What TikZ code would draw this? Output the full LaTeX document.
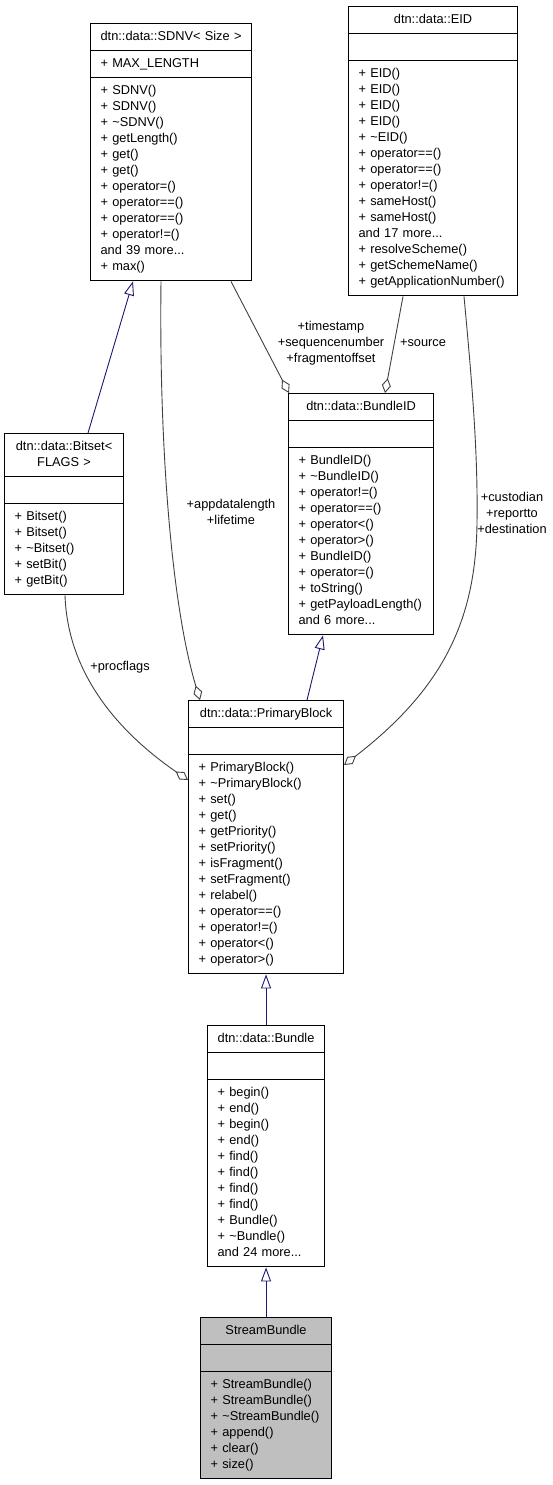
\documentclass[tikz,border=0pt]{standalone}
\usepackage{fontspec}
\setmainfont{Liberation Sans}
\usepackage{tikz}
\usetikzlibrary{shapes.multipart, arrows.meta, positioning}

\definecolor{inherit}{HTML}{191970}
\definecolor{assoc}{HTML}{404040}
\definecolor{current}{HTML}{BFBFBF}

\begin{document}
\begin{tikzpicture}[x=1pt, y=1pt]
	\tikzstyle{classbox} = [draw, line width=1.1pt, rectangle split, rectangle split parts=3, inner xsep=10pt, inner ysep=5pt, align=left, anchor=north west, font=\fontsize{12.8}{16}\selectfont]
	\tikzstyle{inherits} = [draw=inherit, line width=0.9pt, -{Triangle[length=14pt, width=10pt, fill=white]}]
	\tikzstyle{member} = [draw=assoc, line width=0.9pt, -{Diamond[length=15pt, width=9pt, fill=white]}]
	\tikzstyle{role} = [align=center, inner sep=0pt, font=\fontsize{12.8}{16}\selectfont]

	\useasboundingbox (0,0) rectangle (553,-1485);

	% classes
	\node[classbox, text width=141pt] (sdnv) at (90,-23) {{\centering\strut dtn::data::SDNV< Size >\par}
		\nodepart{two}\strut + MAX\_LENGTH
		\nodepart{three}\strut + SDNV()\\ + SDNV()\\ + \textasciitilde SDNV()\\ + getLength()\\ + get()\\ + get()\\ + operator=()\\ + operator==()\\ + operator==()\\ + operator!=()\\ and 39 more...\\ + max()\strut};

	\node[classbox, text width=149pt] (eid) at (348,-6) {{\centering\strut dtn::data::EID\par}
		\nodepart{two}\strut
		\nodepart{three}\strut + EID()\\ + EID()\\ + EID()\\ + EID()\\ + \textasciitilde EID()\\ + operator==()\\ + operator==()\\ + operator!=()\\ + sameHost()\\ + sameHost()\\ and 17 more...\\ + resolveScheme()\\ + getSchemeName()\\ + getApplicationNumber()\strut};

	\node[classbox, text width=99pt] (bitset) at (4,-433) {{\centering\strut dtn::data::Bitset<\\ FLAGS >\strut\par}
		\nodepart{two}\strut
		\nodepart{three}\strut + Bitset()\\ + Bitset()\\ + \textasciitilde Bitset()\\ + setBit()\\ + getBit()\strut};

	\node[classbox, text width=125pt] (bundleid) at (288,-393) {{\centering\strut dtn::data::BundleID\par}
		\nodepart{two}\strut
		\nodepart{three}\strut + BundleID()\\ + \textasciitilde BundleID()\\ + operator!=()\\ + operator==()\\ + operator<()\\ + operator>()\\ + BundleID()\\ + operator=()\\ + toString()\\ + getPayloadLength()\\ and 6 more...\strut};

	\node[classbox, text width=135pt] (primary) at (188,-700) {{\centering\strut dtn::data::PrimaryBlock\par}
		\nodepart{two}\strut
		\nodepart{three}\strut + PrimaryBlock()\\ + \textasciitilde PrimaryBlock()\\ + set()\\ + get()\\ + getPriority()\\ + setPriority()\\ + isFragment()\\ + setFragment()\\ + relabel()\\ + operator==()\\ + operator!=()\\ + operator<()\\ + operator>()\strut};

	\node[classbox, text width=97pt] (bundle) at (207,-1025) {{\centering\strut dtn::data::Bundle\par}
		\nodepart{two}\strut
		\nodepart{three}\strut + begin()\\ + end()\\ + begin()\\ + end()\\ + find()\\ + find()\\ + find()\\ + find()\\ + Bundle()\\ + \textasciitilde Bundle()\\ and 24 more...\strut};

	\node[classbox, text width=111pt, fill=current] (stream) at (200,-1317) {{\centering\strut StreamBundle\par}
		\nodepart{two}\strut
		\nodepart{three}\strut + StreamBundle()\\ + StreamBundle()\\ + \textasciitilde StreamBundle()\\ + append()\\ + clear()\\ + size()\strut};

	% inheritance
	\draw[inherits] ([xshift=84pt]bitset.north west) -- ([xshift=43pt]sdnv.south west);
	\draw[inherits] ([xshift=119pt]primary.north west) -- ([xshift=35pt]bundleid.south west);
	\draw[inherits] (bundle.north) -- (primary.south);
	\draw[inherits] (stream.north) -- (bundle.south);

	% members
	\draw[member] ([xshift=141pt]sdnv.south west) -- ([xshift=1pt]bundleid.north west);
	\draw[member] ([xshift=55pt]eid.south west) -- ([xshift=97pt]bundleid.north west);
	\draw[member] ([xshift=71pt]sdnv.south west) .. controls +(-2,-152) and +(-30,100) .. ([xshift=12pt]primary.north west);
	\draw[member] ([xshift=61pt]bitset.south west) .. controls +(3,-87) and +(-58,40) .. ([yshift=-80pt]primary.north west);
	\draw[member] ([xshift=116pt]eid.south west) .. controls +(8,-86) and +(1,70) .. ++(13,-226)
		.. controls +(-1,-100) and +(97,75) .. ([yshift=-65pt]primary.north east);

	% roles
	\node[role] (l_stamp) at (331,-343) {+timestamp\\+sequencenumber\\+fragmentoffset};
	\node[role] (l_source) at (423,-343) {+source};
	\node[role] (l_appdata) at (231,-512) {+appdatalength\\+lifetime};
	\node[role] (l_custody) at (512,-513) {+custodian\\+reportto\\+destination};
	\node[role] (l_flags) at (120,-667) {+procflags};
\end{tikzpicture}
\end{document}
